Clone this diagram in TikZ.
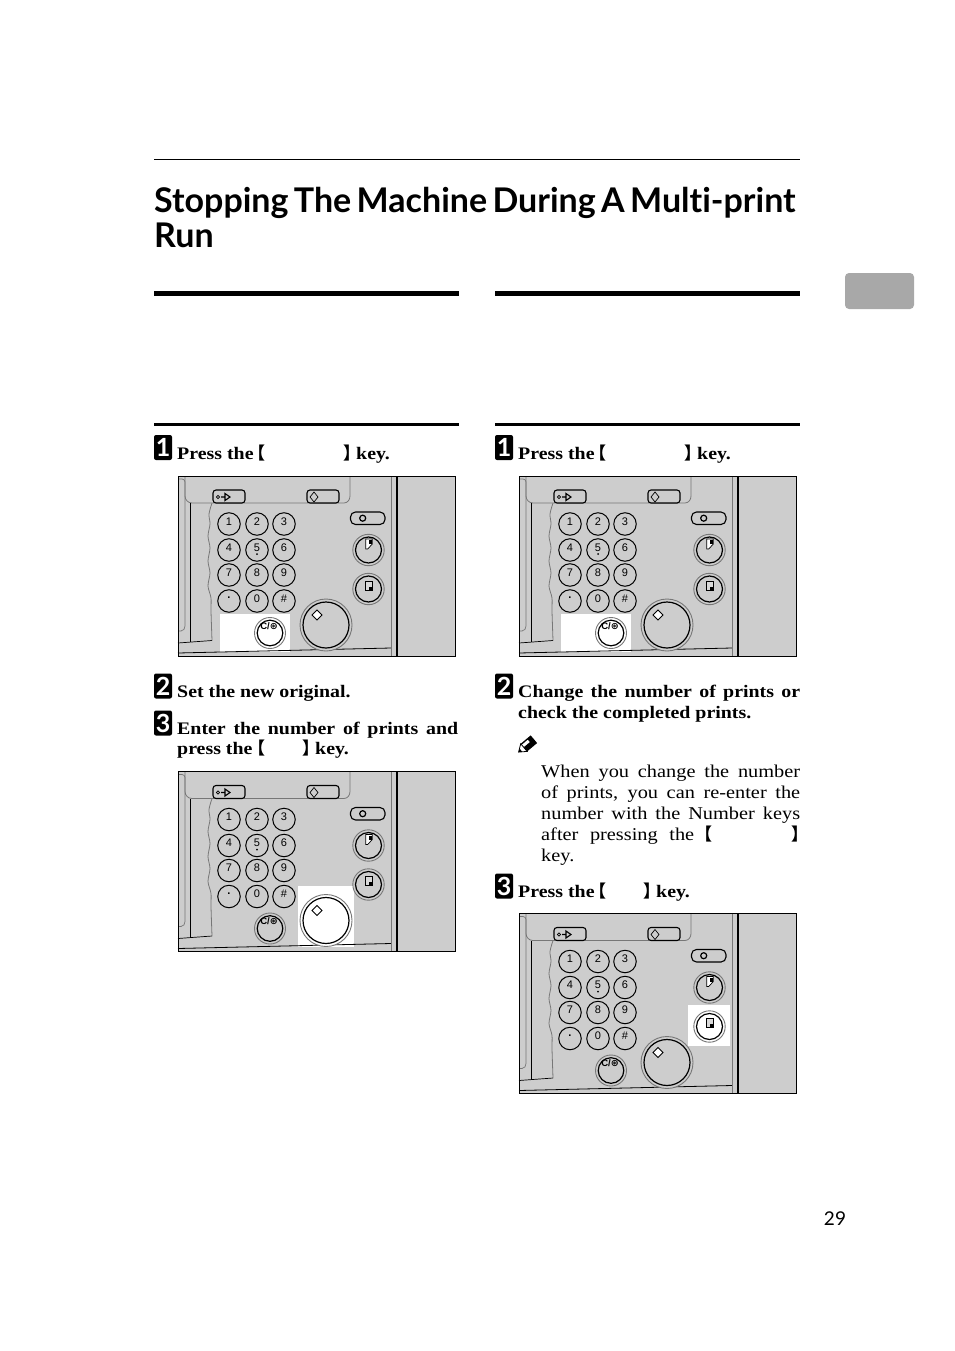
\documentclass[tikz,border=0pt]{standalone}
\usepackage{fontspec}
\setmainfont[FakeStretch=1.13]{Liberation Serif}
\setsansfont{Lato}
\newfontfamily\titlefont[WordSpace=0.65,Ligatures=NoCommon]{Lato}
\newfontfamily\cjk[BoldFont={Noto Sans CJK SC Black}]{Noto Sans CJK SC}
\newfontfamily\keyfont{Liberation Sans}
\newfontfamily\symfont{DejaVu Sans}
\definecolor{panelgray}{HTML}{CDCDCD}
\definecolor{tabgray}{HTML}{A8A8A8}
\definecolor{linegray}{HTML}{777777}
\newcommand\full[2]{\makebox[#1][s]{#2}}
\tikzset{
  titletext/.style={anchor=base west,inner sep=0pt,font=\fontsize{34}{35}\selectfont\titlefont\bfseries},
  steptext/.style={anchor=base west,inner sep=0pt,font=\fontsize{17.6}{21}\selectfont\bfseries},
  bodytext/.style={anchor=base west,inner sep=0pt,font=\fontsize{18}{21}\selectfont},
  bracket/.style={anchor=base west,inner sep=0pt,font=\fontsize{17}{21}\selectfont\cjk\bfseries},
  stepnum/.style={fill=black,rounded corners=2pt,text=white,inner sep=0pt,minimum width=18pt,minimum height=25pt,font=\fontsize{25}{25}\selectfont\sffamily\bfseries},
  numkey/.style={circle,draw=black,line width=1pt,minimum size=22.5pt,inner sep=0pt,font=\fontsize{11}{11}\keyfont},
  softkey/.style={draw=black,line width=1.1pt,rounded corners=3pt},
  outerring/.style={draw=linegray,line width=0.9pt},
  innerring/.style={draw=black,line width=1.2pt}
}
% one control panel; #3 white patch, #4 #5 #6 fills of the three keys that can be lit
\newcommand\panel[6]{
\begin{scope}[shift={(#1,#2)}]
\fill[panelgray] (0,0) rectangle (278,180);
\fill[white] #3;
\draw[linegray,line width=0.8pt] (7,0)--(7,20) to[out=-90,in=180] (14,27)--(166,27) to[out=0,in=-90] (172,20)--(172,0);
\draw[linegray,line width=0.7pt] (0,3)--(4,3) to[out=0,in=90] (7,6)--(7,150) to[out=-90,in=0] (3,155)--(0,155);
\draw[line width=0.7pt] (12,27)--(12,166);
\draw[line width=0.7pt] (0,167)--(34,164.5);
\draw[linegray,line width=0.8pt] plot[smooth] coordinates {(34,27) (31,38) (32,48) (30,60) (32,72) (30,85) (32,97) (30,110) (33,122) (33,135) (34,164.5)};
\draw[line width=0.8pt] (0,177)--(213,172);
\draw[linegray,line width=0.8pt] (213.5,0)--(213.5,180);
\fill (217.5,0) rectangle (220,180);
\draw[line width=1pt] (0,0) rectangle (277.5,180);
% top keys
\draw[softkey,fill=panelgray] (35,14) rectangle (67,27);
\draw[softkey,fill=panelgray] (129,14) rectangle (161,27);
\draw[line width=0.6pt] (40,21) circle (1.6);
\draw[line width=1.1pt] (43,21)--(47,21) (47,17.5)--(52,21)--(47,24.5)--cycle;
\draw[line width=0.7pt] (136,16)--(140,21)--(136,26)--(132,21)--cycle;
\draw[softkey,rounded corners=5pt,fill=panelgray] (172.5,36) rectangle (207,48.5);
\draw[line width=1.2pt] (184.7,42.2) circle (3);
% number keys
\foreach \d/\cx/\cy in {1/51/48,2/79/48,3/106/48,4/51/74,5/79/74,6/106/74,7/51/99,8/79/99,9/106/99,0/79/125}
  \node[numkey] (key\d) at (\cx,\cy) {\raisebox{5pt}{\d}};
\node[numkey] (keydot) at (51,125) {\raisebox{6pt}{\textbf{.}}};
\node[numkey] (keyhash) at (106,125) {\raisebox{5pt}{\#}};
\fill (79,78) circle (1);
% clear, start and print keys
\draw[outerring,fill=#4] (92,157) circle (15.5);
\draw[innerring] (92,157) circle (12.8);
\node[inner sep=0pt,font=\fontsize{9.5}{10}\keyfont\bfseries] (keyclear) at (91,150) {C/{\symfont ⊛}};
\draw[outerring,fill=#5] (148,149) circle (26);
\draw[innerring] (148,149) circle (23);
\draw[line width=1pt,fill=white] (139,134)--(144,139)--(139,144)--(134,139)--cycle;
\draw[outerring,fill=#6] (190.5,113) circle (15.7);
\draw[innerring] (190.5,113) circle (13);
\draw[line width=0.5pt,fill=gray!30] (187.7,105) rectangle (194,114);
\fill (190.5,110.5) rectangle (194,114);
\draw[outerring,fill=panelgray] (190.5,74) circle (15.7);
\draw[innerring] (190.5,74) circle (13);
\draw[line width=0.7pt,fill=white] (187.7,63)--(194.3,63)--(194.3,68)--(189.7,73)--(187.7,73)--cycle;
\fill (191,64) rectangle (193.5,68);
\end{scope}
}
\begin{document}
\begin{tikzpicture}[x=1pt,y=-1pt]
\useasboundingbox[fill=white] (0,0) rectangle (954,1351);
\draw[line width=1pt] (154,159.5)--(800,159.5);
\node[titletext] (titlea) at (154,212) {Stopping The Machine During A Multi-print};
\node[titletext] (titleb) at (154,247) {Run};
\fill[tabgray,rounded corners=4pt] (845,273) rectangle (914,309);
\foreach \a in {154,495} {
\fill (\a,291) rectangle (\a+305,296);
\fill (\a,423) rectangle (\a+305,426);
}
% left column
\node[stepnum] (numa) at (163,447.5) {1};
\node[steptext] (texta) at (177,459) {Press the};
\node[bracket] (lba) at (248,459) {【};
\node[bracket] (rba) at (343,459) {】};
\node[steptext] (keya) at (356,459) {key.};
\panel{178}{476}{(42,138) rectangle (112,176)}{white}{panelgray}{panelgray}
\node[stepnum] (numb) at (163,686) {2};
\node[steptext] (textb) at (177,697) {Set the new original.};
\node[stepnum] (numc) at (163,723) {3};
\node[steptext] (textc) at (177,734) {\full{281pt}{Enter the number of prints and}};
\node[steptext] (textd) at (177,754) {press the};
\node[bracket] (lbc) at (248,754) {【};
\node[bracket] (rbc) at (302,754) {】};
\node[steptext] (keyc) at (315,754) {key.};
\panel{178}{771.5}{(120,114) rectangle (176,175)}{panelgray}{white}{panelgray}
% right column
\node[stepnum] (nume) at (504,447.5) {1};
\node[steptext] (texte) at (518,459) {Press the};
\node[bracket] (lbe) at (589,459) {【};
\node[bracket] (rbe) at (684,459) {】};
\node[steptext] (keye) at (697,459) {key.};
\panel{519}{476}{(42,138) rectangle (112,176)}{white}{panelgray}{panelgray}
\node[stepnum] (numf) at (504,686) {2};
\node[steptext] (textf) at (518,697) {\full{282pt}{Change the number of prints or}};
\node[steptext] (textg) at (518,718) {check the completed prints.};
% pencil
\begin{scope}[shift={(527,745)},rotate=-50]
\fill (-5,-9) rectangle (5,4);
\fill[white] (-3.5,-4) rectangle (-0.5,4);
\draw[line width=0.8pt,fill=white] (-5,4)--(5,4)--(0,11)--cycle;
\fill (0,11)--(-2,8)--(2,8)--cycle;
\end{scope}
\node[bodytext] (noteh) at (541,777) {\full{259pt}{When you change the number}};
\node[bodytext] (notei) at (541,798) {\full{259pt}{of prints, you can re-enter the}};
\node[bodytext] (notej) at (541,819) {\full{259pt}{number with the Number keys}};
\node[bodytext] (notek) at (541,840) {\full{153pt}{after pressing the}};
\node[bracket] (lbk) at (695,840) {【};
\node[bracket] (rbk) at (791,840) {】};
\node[bodytext] (notel) at (541,861) {key.};
\node[stepnum] (numm) at (504,886) {3};
\node[steptext] (textm) at (518,897) {Press the};
\node[bracket] (lbm) at (589,897) {【};
\node[bracket] (rbm) at (643,897) {】};
\node[steptext] (keym) at (656,897) {key.};
\panel{519}{913.5}{(169,91.5) rectangle (211,132.5)}{panelgray}{panelgray}{white}
\node[anchor=base,inner sep=0pt,font=\fontsize{19}{21}\selectfont\sffamily] (pagenum) at (835,1225) {29};
\end{tikzpicture}
\end{document}
